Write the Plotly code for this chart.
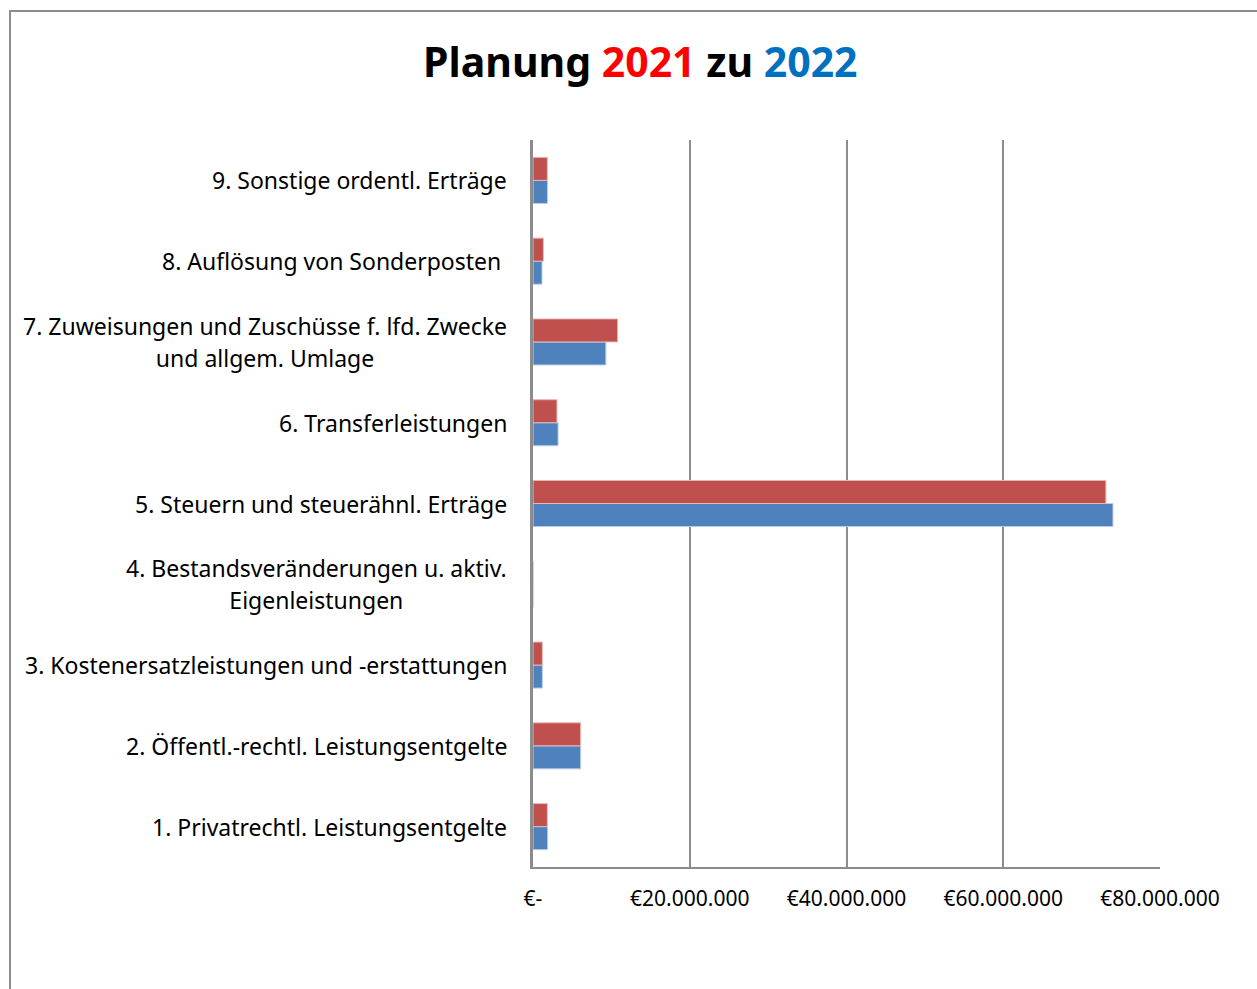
import plotly.graph_objects as go

categories = [
    "1. Privatrechtl. Leistungsentgelte",
    "2. Öffentl.-rechtl. Leistungsentgelte",
    "3. Kostenersatzleistungen und -erstattungen",
    "4. Bestandsveränderungen u. aktiv.<br>Eigenleistungen",
    "5. Steuern und steuerähnl. Erträge",
    "6. Transferleistungen",
    "7. Zuweisungen und Zuschüsse f. lfd. Zwecke<br>und allgem. Umlage",
    "8. Auflösung von Sonderposten ",
    "9. Sonstige ordentl. Erträge",
]
values_2021 = [1830000, 6080000, 1190000, 0, 73100000, 3060000, 10800000, 1320000, 1830000]
values_2022 = [1870000, 6080000, 1190000, 0, 74000000, 3200000, 9300000, 1150000, 1850000]
tick_vals = [0, 20000000, 40000000, 60000000, 80000000]
tick_text = ["€-", "€20.000.000", "€40.000.000", "€60.000.000", "€80.000.000"]

W, H = 1257, 989
L, R, T, B = 533, 1257 - 1160, 140, 989 - 867
pw, ph = W - L - R, H - T - B

FONT = "Noto Sans"
LABEL_SIZE = 23
LINE_PX = 32

fig = go.Figure()
fig.add_trace(go.Bar(
    y=list(range(len(categories))), x=values_2022, orientation="h", name="2022",
    marker=dict(color="#4F81BD", line=dict(color="#B9CDE5", width=1)),
))
fig.add_trace(go.Bar(
    y=list(range(len(categories))), x=values_2021, orientation="h", name="2021",
    marker=dict(color="#C0504D", line=dict(color="#E6B9B8", width=1)),
))

for i, c in enumerate(categories):
    txt = "<br>".join(
        f"<span style='font-size:{LABEL_SIZE}px'>{part}</span>" for part in c.split("<br>")
    )
    fig.add_annotation(
        x=0, xref="paper", y=i, yref="y", text=txt, showarrow=False,
        xanchor="right", yanchor="middle", align="center", xshift=-24,
        font=dict(family=FONT, size=LINE_PX / 1.3, color="#000000"),
    )

# title
fig.add_annotation(
    x=(640 - L) / pw, xref="paper", y=(867 - 61) / ph, yref="paper",
    text="<b>Planung <span style='color:#FF0000'>2021</span> zu <span style='color:#0070C0'>2022</span></b>",
    showarrow=False, xanchor="center", yanchor="middle",
    font=dict(family=FONT, size=41, color="#000000"),
)

# outer frame
fig.add_shape(
    type="rect", xref="paper", yref="paper",
    x0=(10 - L) / pw, x1=(1262 - L) / pw, y0=(867 - 1000) / ph, y1=(867 - 11) / ph,
    line=dict(color="#8C8C8C", width=2), fillcolor="rgba(0,0,0,0)", layer="below",
)

fig.update_layout(
    width=W, height=H,
    margin=dict(l=L, r=R, t=T, b=B, pad=0),
    paper_bgcolor="white", plot_bgcolor="white",
    barmode="group", bargap=0.43, bargroupgap=0,
    showlegend=False,
    font=dict(family=FONT, color="#000000"),
    xaxis=dict(
        range=[0, 80000000], tickvals=tick_vals, ticktext=tick_text,
        showgrid=True, gridcolor="#8C8C8C", gridwidth=2,
        showline=True, linecolor="#8C8C8C", linewidth=2,
        zeroline=False, ticks="", ticklabelstandoff=12,
        tickfont=dict(family=FONT, size=21, color="#000000"),
        fixedrange=True,
    ),
    yaxis=dict(
        range=[-0.5, len(categories) - 0.5], showticklabels=False,
        showgrid=False, zeroline=False,
        showline=True, linecolor="#8C8C8C", linewidth=3, ticks="",
        fixedrange=True,
    ),
)

fig.write_html("out.html")
